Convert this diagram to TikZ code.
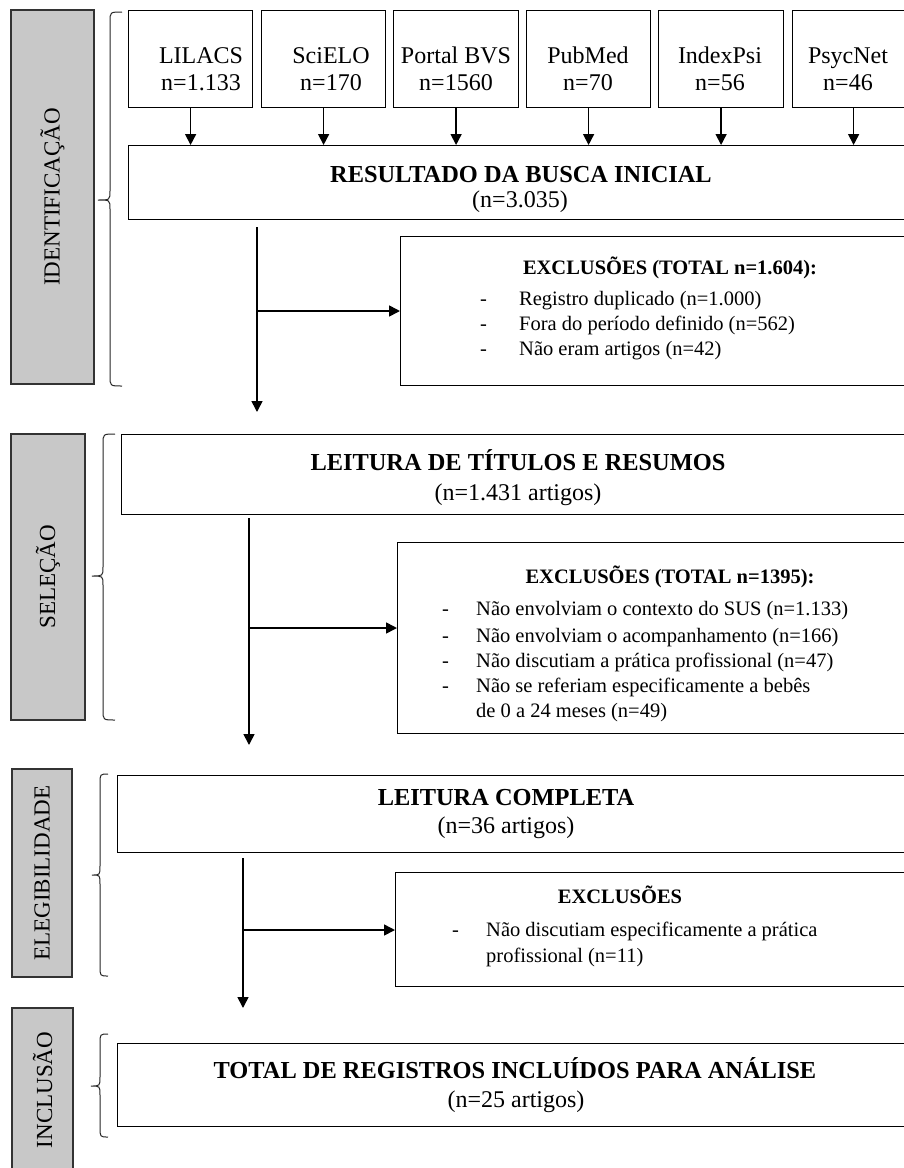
\documentclass[tikz,border=0pt]{standalone}
\usepackage{fontspec}
\setmainfont{Liberation Serif}
\usetikzlibrary{arrows.meta,calc}
\definecolor{sidegray}{RGB}{200,200,200}
\newcommand\mybrace[6]{% #1 xend, #2 xvert, #3 xtip, #4 ytop, #5 ytip, #6 ybot
  \draw[brc] (#1,#4) .. controls (#2,#4) .. (#2,#4+10) -- (#2,#5-9)
    .. controls (#2,#5) .. (#3,#5) .. controls (#2,#5) .. (#2,#5+9)
    -- (#2,#6-10) .. controls (#2,#6) .. (#1,#6);}
\begin{document}
\begin{tikzpicture}[x=1pt,y=-1pt,
  box/.style={draw=black, line width=1.2pt, fill=white, rectangle, inner sep=0pt, anchor=north west},
  side/.style={draw=black!80, line width=1.2pt, fill=sidegray, rectangle, inner sep=0pt, rotate=90, font=\fontsize{23}{27}\selectfont},
  big/.style={font=\fontsize{24}{28}\selectfont, inner sep=0pt, anchor=base},
  bigb/.style={big, font=\fontsize{24.4}{28}\selectfont\bfseries},
  sm/.style={font=\fontsize{20.5}{24}\selectfont, inner sep=0pt, anchor=base west},
  smb/.style={sm, font=\fontsize{20.5}{24}\selectfont\bfseries, anchor=base},
  arr/.style={line width=1.6pt, -{Triangle[length=11pt,width=11pt]}},
  brc/.style={line width=1pt, draw=black!85}
]
\useasboundingbox (0,0) rectangle (904,1168);
\fill[white] (0,0) rectangle (904,1168);
\clip (0,0) rectangle (904,1168);

% side labels
\node[side, minimum width=374pt, minimum height=83pt] (sid) at (52.5,197) {IDENTIFICAÇÃO};
\node[side, minimum width=286pt, minimum height=74pt] (ssel) at (48,577) {SELEÇÃO};
\node[side, minimum width=208pt, minimum height=60pt] (seleg) at (42,873) {ELEGIBILIDADE};
\node[side, minimum width=164pt, minimum height=61pt] (sinc) at (42.5,1090) {INCLUSÃO};

% braces
\mybrace{122}{110}{98}{12}{200}{386}
\mybrace{115}{103}{92}{434}{576}{720}
\mybrace{108}{100}{92}{774}{875}{976}
\mybrace{108}{100}{91}{1034}{1086}{1137}

% main box 1
\node[box, minimum width=800pt, minimum height=74pt] (b1) at (128,145) {};
\node[bigb] (b1t) at (521,182) {RESULTADO DA BUSCA INICIAL};
\node[big] (b1n) at (520,207) {(n=3.035)};

% sources
\foreach \i/\bx/\bw/\tx/\la/\lb in {1/128/124/201/LILACS/n=1.133, 2/261/124/331/SciELO/n=170, 3/393/125/456/Portal BVS/n=1560, 4/526/124/588/PubMed/n=70, 5/658/125/720/IndexPsi/n=56, 6/792/122/848/PsycNet/n=46}
{
  \node[box, minimum width=\bw pt, minimum height=97pt] (s\i) at (\bx,10) {};
  \node[big] (s\i a) at (\tx,63) {\la};
  \node[big] (s\i b) at (\tx,90) {\lb};
  \draw[arr] (s\i.south) -- (s\i.south |- b1.north);
}

% exclusions 1
\node[box, minimum width=520pt, minimum height=149pt] (e1) at (400,236) {};
\node[smb] (e1t) at (670,274) {EXCLUSÕES (TOTAL n=1.604):};
\node[sm] (e1d1) at (480,305) {-};
\node[sm] (e1i1) at (519,305) {Registro duplicado (n=1.000)};
\node[sm] (e1d2) at (480,330) {-};
\node[sm] (e1i2) at (519,330) {Fora do período definido (n=562)};
\node[sm] (e1d3) at (480,355) {-};
\node[sm] (e1i3) at (519,355) {Não eram artigos (n=42)};

\coordinate (f1s) at (257,227);
\coordinate (f1e) at (257,412);
\coordinate (j1) at (257,311);
\draw[arr] (f1s) -- (f1e);
\draw[arr] (j1) -- (j1 -| e1.west);

% main box 2
\node[box, minimum width=800pt, minimum height=80pt] (b2) at (121,434) {};
\node[bigb] (b2t) at (518,470) {LEITURA DE TÍTULOS E RESUMOS};
\node[big] (b2n) at (518,500) {(n=1.431 artigos)};

% exclusions 2
\node[box, minimum width=520pt, minimum height=191pt] (e2) at (397,542) {};
\node[smb] (e2t) at (670,583) {EXCLUSÕES (TOTAL n=1395):};
\node[sm] (e2d1) at (442,615) {-};
\node[sm] (e2i1) at (476,615) {Não envolviam o contexto do SUS (n=1.133)};
\node[sm] (e2d2) at (442,642) {-};
\node[sm] (e2i2) at (476,642) {Não envolviam o acompanhamento (n=166)};
\node[sm] (e2d3) at (442,667) {-};
\node[sm] (e2i3) at (476,667) {Não discutiam a prática profissional (n=47)};
\node[sm] (e2d4) at (442,692) {-};
\node[sm] (e2i4) at (476,692) {Não se referiam especificamente a bebês};
\node[sm] (e2i5) at (476,717) {de 0 a 24 meses (n=49)};

\coordinate (f2s) at (249,518);
\coordinate (f2e) at (249,745);
\coordinate (j2) at (249,628);
\draw[arr] (f2s) -- (f2e);
\draw[arr] (j2) -- (j2 -| e2.west);

% main box 3
\node[box, minimum width=800pt, minimum height=77pt] (b3) at (117,775) {};
\node[bigb] (b3t) at (506,805) {LEITURA COMPLETA};
\node[big] (b3n) at (506,833) {(n=36 artigos)};

% exclusions 3
\node[box, minimum width=520pt, minimum height=114pt] (e3) at (395,872) {};
\node[smb] (e3t) at (620,903) {EXCLUSÕES};
\node[sm] (e3d1) at (452,936) {-};
\node[sm] (e3i1) at (486,936) {Não discutiam especificamente a prática};
\node[sm] (e3i2) at (486,962) {profissional (n=11)};

\coordinate (f3s) at (243,858);
\coordinate (f3e) at (243,1008);
\coordinate (j3) at (243,930);
\draw[arr] (f3s) -- (f3e);
\draw[arr] (j3) -- (j3 -| e3.west);

% main box 4
\node[box, minimum width=800pt, minimum height=83pt] (b4) at (117,1043) {};
\node[bigb] (b4t) at (515,1078) {TOTAL DE REGISTROS INCLUÍDOS PARA ANÁLISE};
\node[big] (b4n) at (516,1107) {(n=25 artigos)};
\end{tikzpicture}
\end{document}
